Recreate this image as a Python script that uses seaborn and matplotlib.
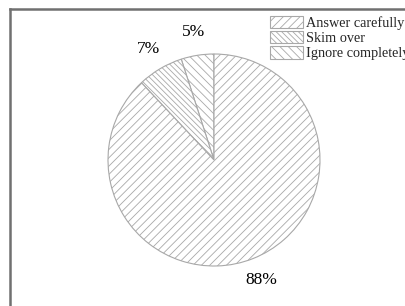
import matplotlib
matplotlib.use("Agg")
import matplotlib.pyplot as plt
import seaborn as sns

# data: slices counter-clockwise from 12 o'clock
categories = ["Ignore completely", "Skim over", "Answer carefully"]
shares     = [5, 7, 88]
hatches    = ["\\\\\\\\", "\\\\\\\\\\\\", "////"]
legend_order = ["Answer carefully", "Skim over", "Ignore completely"]

sns.set_style("white")
plt.rcParams["font.family"] = ["Liberation Serif", "DejaVu Serif"]
plt.rcParams["hatch.linewidth"] = 0.6

W, H = 406, 306
fig = plt.figure(figsize=(W / 100, H / 100), dpi=100)

# outer frame (only top/left visible, the rest is cropped off)
frame = fig.add_axes([10 / W, -0.05, 1.0, 1 - 9 / H + 0.05])
frame.set_xticks([]); frame.set_yticks([])
for side in ["top", "left"]:
    frame.spines[side].set_color("#707070")
    frame.spines[side].set_linewidth(1.8)
for side in ["right", "bottom"]:
    frame.spines[side].set_visible(False)

# pie
cx, cy, r = 214, 160, 106
ax = fig.add_axes([(cx - r) / W, (H - cy - r) / H, 2 * r / W, 2 * r / H])
ax.set_axis_off()
wedges, texts, autotexts = ax.pie(
    shares, startangle=90, counterclock=True,
    colors=["white"] * 3,
    wedgeprops=dict(edgecolor="#a8a8a8", linewidth=0.8),
    autopct="%d%%", pctdistance=1.22, labels=None,
    textprops=dict(fontsize=12.5, color="black"),
)
for w, h in zip(wedges, hatches):
    w.set_hatch(h)
ax.set_xlim(-1, 1); ax.set_ylim(-1, 1)
for t in autotexts:
    t.set_clip_on(False)

# legend
handles = [wedges[categories.index(c)] for c in legend_order]
fig.legend(handles, legend_order, loc="upper left",
           bbox_to_anchor=(264 / W, 1 - 10 / H), frameon=False,
           fontsize=10.3, handlelength=2.35, handleheight=0.95,
           handletextpad=0.2, labelspacing=0.08, borderaxespad=0)

fig.savefig("out.png", dpi=100)
